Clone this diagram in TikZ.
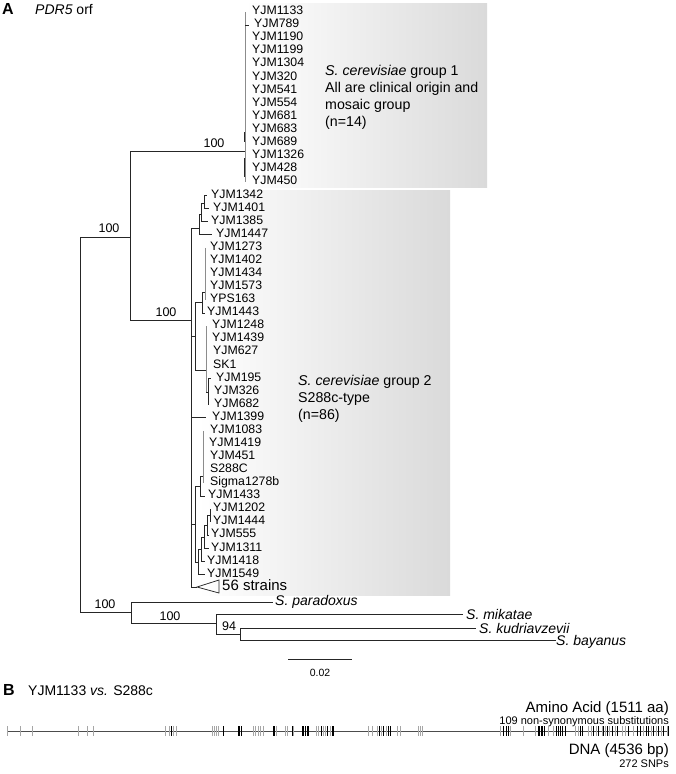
\documentclass[tikz,border=0pt]{standalone}
\usepackage{fontspec}
\setmainfont{Liberation Sans}
\definecolor{boxgray}{RGB}{218,218,218}
\begin{document}
\begin{tikzpicture}[x=1pt,y=-1pt,
  br/.style={draw=black!85, line width=0.75pt},
  gbr/.style={draw=black!45, line width=0.75pt},
  lf/.style={anchor=mid west, inner sep=0pt, font=\fontsize{12.3}{13}\selectfont},
  bs/.style={inner sep=0pt, font=\fontsize{12.5}{13}\selectfont},
  spn/.style={anchor=mid west, inner sep=0pt, font=\fontsize{14}{15}\selectfont\itshape},
  grp/.style={anchor=mid west, inner sep=0pt, font=\fontsize{14.2}{17}\selectfont},
  rlab/.style={anchor=mid east, inner sep=0pt, font=\fontsize{15}{16}\selectfont},
  slab/.style={anchor=mid east, inner sep=0pt, font=\fontsize{11}{12}\selectfont},
  gtick/.style={draw=black!35, line width=0.6pt},
  ktick/.style={draw=black, line width=0.6pt}]
\useasboundingbox (0,0) rectangle (675,774);
% gradient boxes
\shade[left color=white, right color=boxgray] (245,3) rectangle (487,187);
\shade[left color=white, right color=boxgray] (198,190) rectangle (450,595);
% panel A titles
\node[anchor=mid west, inner sep=0pt, font=\fontsize{16}{16}\selectfont\bfseries] (pA) at (2,12) {A};
\node[anchor=mid west, inner sep=0pt, font=\fontsize{14}{14}\selectfont] (pdr) at (35,12) {\textit{PDR5} orf};
% group texts
\node[grp] (g1t1) at (325,73) {\textit{S. cerevisiae} group 1};
\node[grp] (g1t2) at (325,90) {All are clinical origin and};
\node[grp] (g1t3) at (325,107) {mosaic group};
\node[grp] (g1t4) at (325,124) {(n=14)};
\node[grp] (g2t1) at (298,383) {\textit{S. cerevisiae} group 2};
\node[grp] (g2t2) at (298,400) {S288c-type};
\node[grp] (g2t3) at (298,417) {(n=86)};
% group 1 leaves
\foreach \n/\x [count=\i from 0] in {YJM1133/252,YJM789/254,YJM1190/252,YJM1199/252,YJM1304/252,YJM320/252,YJM541/252,YJM554/252,YJM681/252,YJM683/252,YJM689/252,YJM1326/252,YJM428/252,YJM450/252}
  \node[lf] (ga\i) at (\x,{12+13.08*\i}) {\n};
% group 2 leaves
\foreach \n/\x [count=\i from 0] in {YJM1342/211,YJM1401/213,YJM1385/211,YJM1447/216,YJM1273/210,YJM1402/210,YJM1434/210,YJM1573/210,YPS163/210,YJM1443/207,YJM1248/212,YJM1439/212,YJM627/213,SK1/213,YJM195/216,YJM326/214,YJM682/214,YJM1399/212,YJM1083/210,YJM1419/209,YJM451/210,S288C/210,Sigma1278b/210,YJM1433/208,YJM1202/213,YJM1444/213,YJM555/211,YJM1311/211,YJM1418/207,YJM1549/207}
  \node[lf] (gb\i) at (\x,{195.5+13.07*\i}) {\n};
% backbone
\draw[br] (80,237) -- (80,612);
\draw[br] (80,237) -- (130,237);
\draw[br] (130,151) -- (130,320);
\draw[br] (130,151) -- (245,151);
\draw[gbr] (245,12) -- (245,182);
\draw[br] (244.5,132) -- (244.5,142) (244.5,158) -- (244.5,177);
\draw[br] (245,25) -- (248.5,25);
\draw[br] (130,320) -- (191,320);
\draw[br] (191,228) -- (191,587);
% clade A
\draw[br] (191,228) -- (199,228) (199,214) -- (199,234.7) -- (212,234.7)
  (199,214) -- (201,214) (201,203) -- (201,221.6) -- (208,221.6)
  (201,203) -- (204,203) (204,195.5) -- (204,208.6)
  (204,195.5) -- (207,195.5) (204,208.6) -- (209,208.6);
% clade B / C
\draw[br] (191,336) -- (195,336) (195,302) -- (195,370)
  (195,302) -- (202,302) (202,292) -- (202,313.1) -- (205,313.1)
  (202,292) -- (205,292);
\draw[gbr] (205,247.8) -- (205,300.1);
\draw[br] (195,370) -- (206,370);
\draw[gbr] (206,326.2) -- (206,392);
\draw[br] (206,392) -- (208,392) (208,378.5) -- (208,404.6) (208,378.5) -- (211,378.5);
% YJM1399
\draw[br] (191,417.7) -- (206,417.7);
% clade D / E
\draw[br] (191,524) -- (195,524) (195,486) -- (195,562)
  (195,486) -- (200,486) (200,476) -- (200,496.1) -- (205,496.1)
  (200,476) -- (203,476);
\draw[gbr] (203,430.8) -- (203,483);
\draw[br] (210,509.2) -- (210,522.3)
  (207,515.7) -- (210,515.7) (207,515.7) -- (207,535.3) -- (209,535.3)
  (204,525.5) -- (207,525.5) (204,525.5) -- (204,548.4) -- (209,548.4)
  (201,537) -- (204,537) (201,537) -- (201,561.5) -- (205,561.5)
  (198,549) -- (201,549) (198,549) -- (198,574.5) -- (205,574.5)
  (195,562) -- (198,562);
% collapsed 56 strains
\draw[br] (191,587) -- (197,587);
\draw[br] (197,587) -- (219,580) -- (219,593) -- cycle;
\node[anchor=mid west, inner sep=0pt, font=\fontsize{15}{16}\selectfont] (s56) at (222,588) {56 strains};
% outgroups
\draw[br] (80,612) -- (131,612);
\draw[br] (131,602) -- (131,623);
\draw[br] (131,602) -- (273,602);
\draw[br] (131,623) -- (216,623);
\draw[br] (216,614) -- (216,634);
\draw[br] (216,614) -- (463,614);
\draw[br] (216,634) -- (240,634);
\draw[br] (240,628) -- (240,640);
\draw[br] (240,628) -- (476,628);
\draw[br] (240,640) -- (556,640);
\node[spn] (spa) at (275,603) {S. paradoxus};
\node[spn] (smi) at (466,617) {S. mikatae};
\node[spn] (sku) at (479,631) {S. kudriavzevii};
\node[spn] (sba) at (556,643) {S. bayanus};
% bootstrap values
\node[bs] (b1) at (109,228) {100};
\node[bs] (b2) at (214,143) {100};
\node[bs] (b3) at (166,312) {100};
\node[bs] (b4) at (105,604) {100};
\node[bs] (b5) at (170,616) {100};
\node[bs] (b6) at (229,626) {94};
% scale bar
\coordinate (sbl) at (288,659);
\coordinate (sbr) at (352,659);
\draw[br] (sbl) -- (sbr);
\node[inner sep=0pt, font=\fontsize{10.5}{11}\selectfont] (sbt) at (320,673) {0.02};
% panel B
\node[anchor=mid west, inner sep=0pt, font=\fontsize{16}{16}\selectfont\bfseries] (pB) at (3,693) {B};
\node[anchor=mid west, inner sep=0pt, font=\fontsize{14}{14}\selectfont] (cmp) at (28,693) {YJM1133 \textit{vs.} S288c};
\node[rlab] (aa) at (669,710) {Amino Acid (1511 aa)};
\node[slab] (nsyn) at (669,722) {109 non-synonymous substitutions};
\node[rlab] (dna) at (669,752) {DNA (4536 bp)};
\node[slab] (snp) at (669,765) {272 SNPs};
\coordinate (la) at (7,731);
\coordinate (lb) at (669,731);
\draw[draw=black!70, line width=0.8pt] (la) -- (lb);
\foreach \t in {7,20,32,78,87,93,165,169,173,176,212,214,216,218,253,255,258,260,263,276,285,287,293,316,318,323,325,330,368,372,377,381,386,397,400,418,420,422,500,510,523,535,548,553,575,578,588,591,596,602,605,609,615,622,625,633,643,651,656,661,667}
  \draw[gtick] (\t,726) -- (\t,736);
\foreach \t in {171,223,238,239.5,241,273,274.5,292,302,303.5,305,307,308,321,327,332,333.5,379,383,388,390,503,506,508,538,539.5,541,542.5,544,556,558,560,562,565,580,582,593,598,603,607,612,617,628,637,640,646,648,653,658,663,668}
  \draw[ktick] (\t,726) -- (\t,736);
\end{tikzpicture}
\end{document}
